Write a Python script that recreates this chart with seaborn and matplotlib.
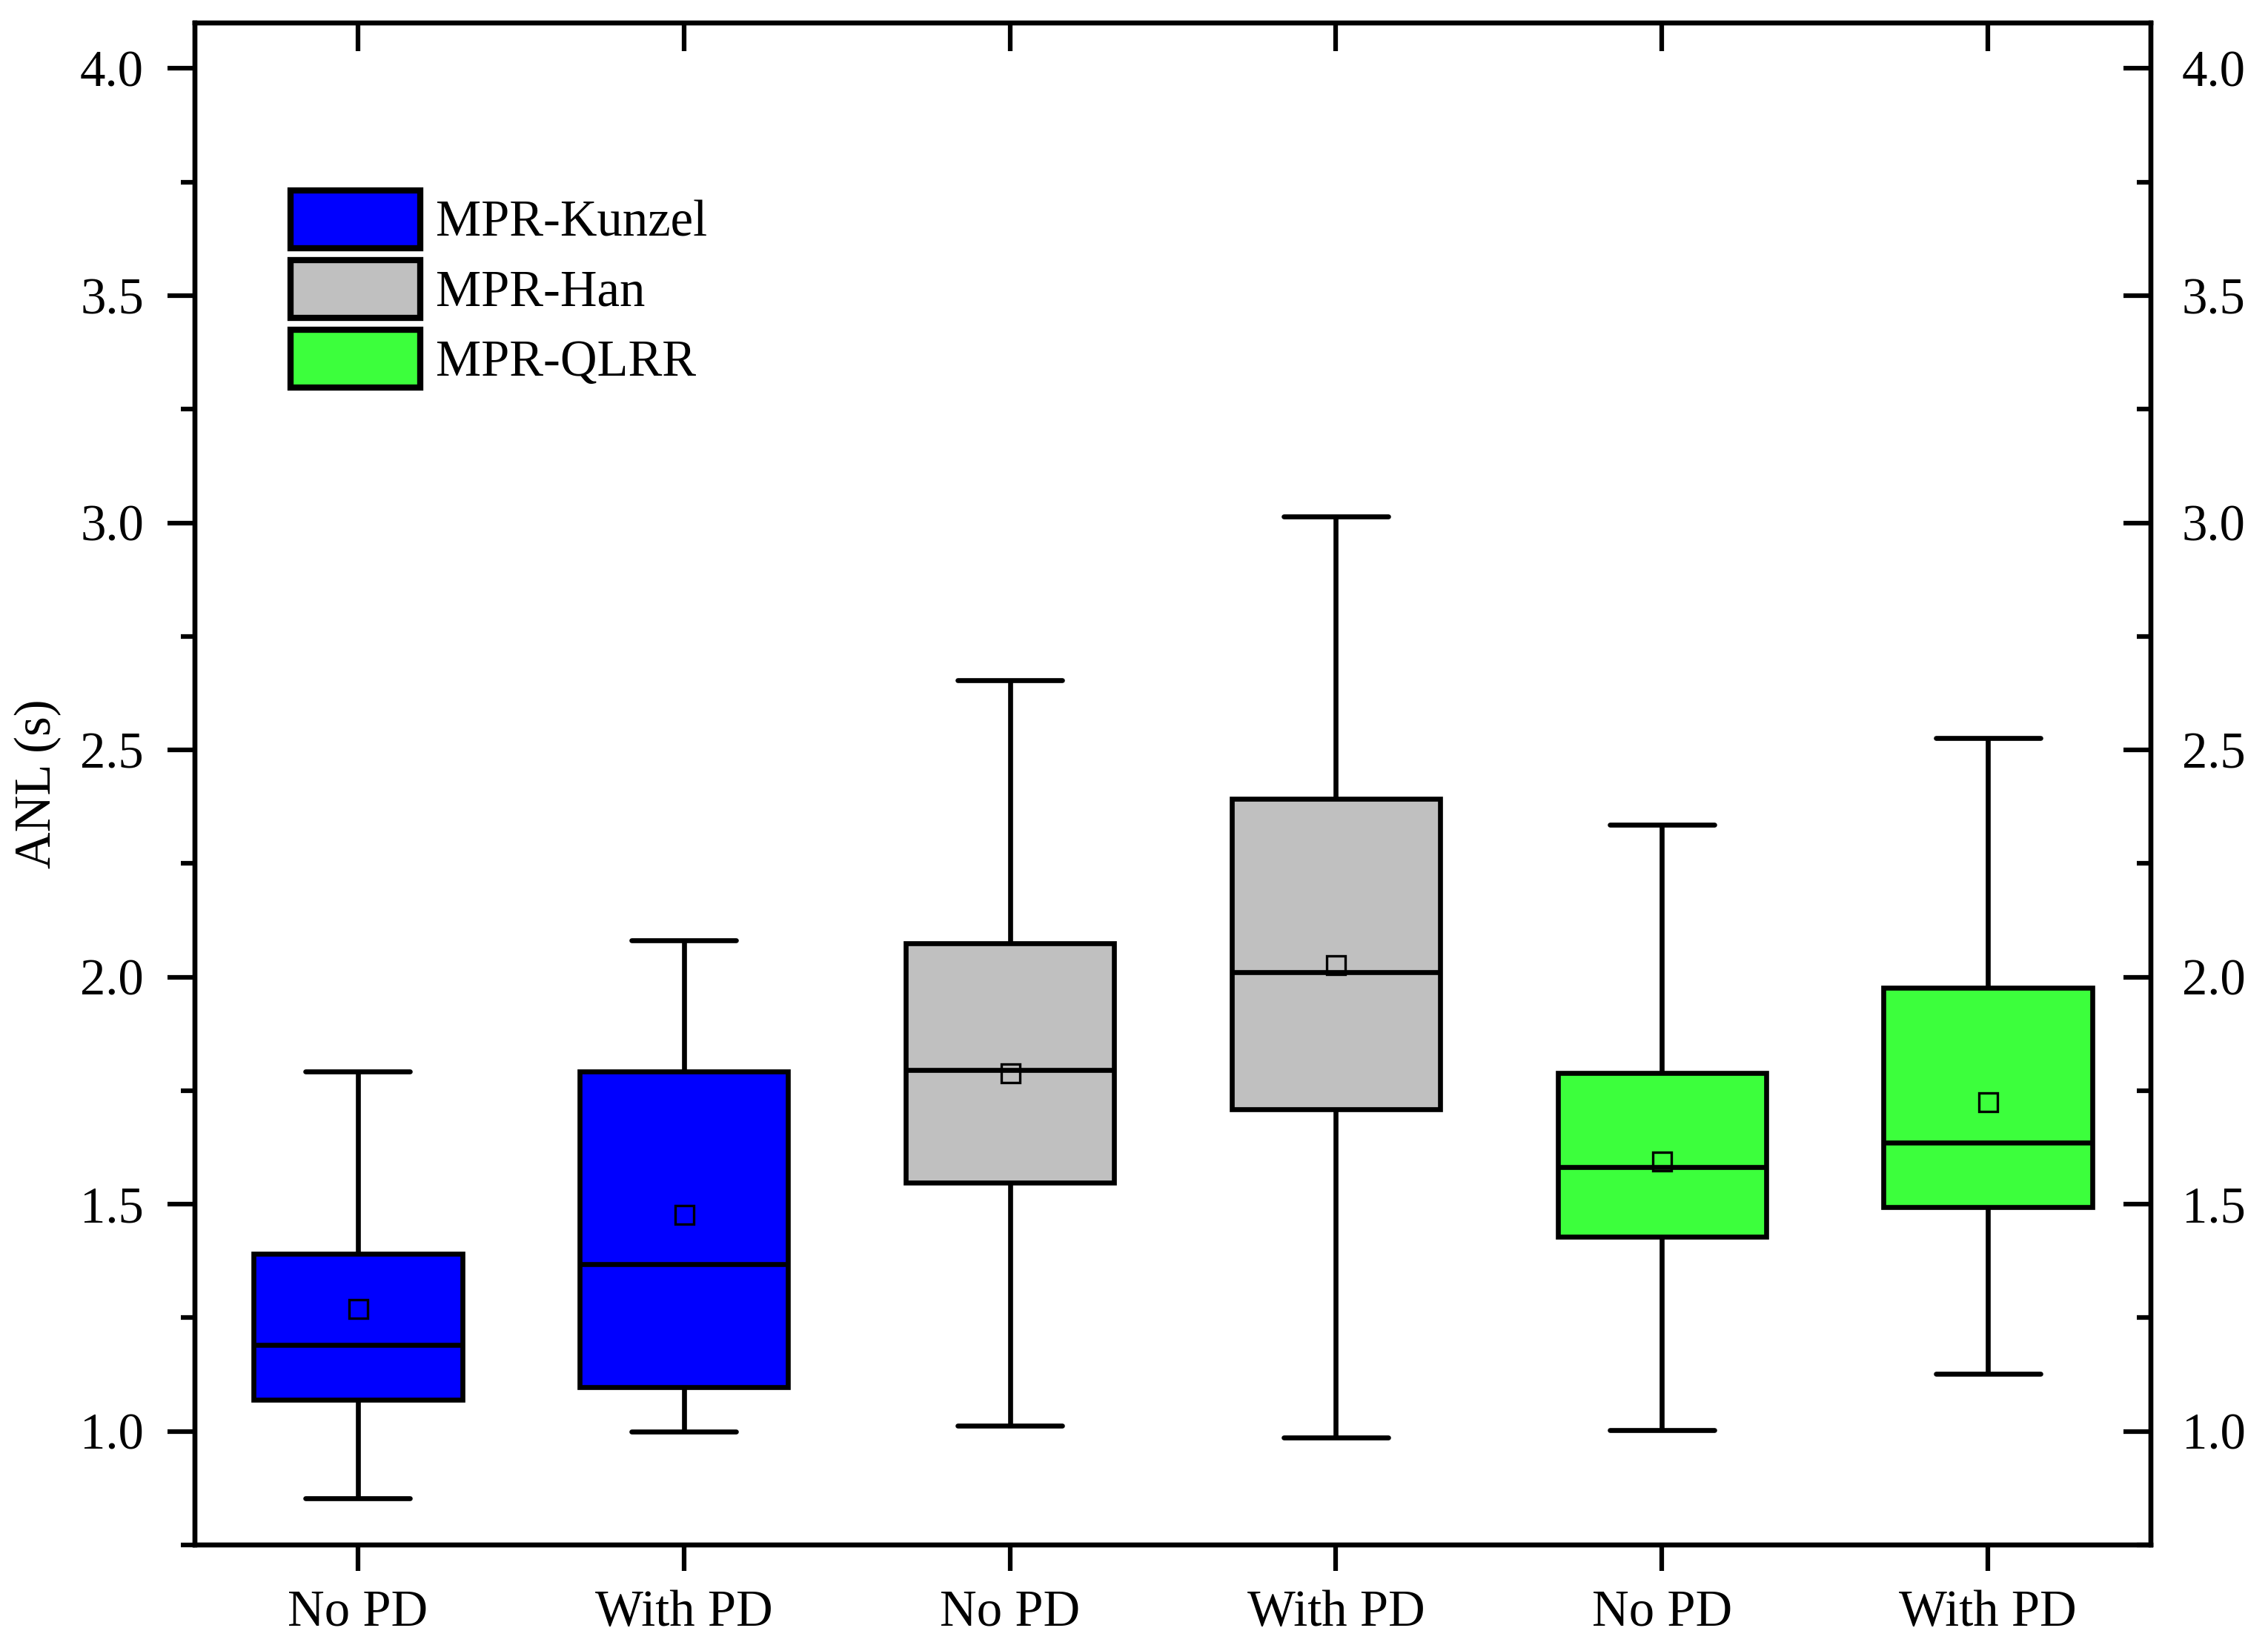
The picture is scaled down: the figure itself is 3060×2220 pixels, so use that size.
import numpy as np
import pandas as pd
import matplotlib
matplotlib.use("Agg")
import matplotlib.pyplot as plt
from matplotlib.patches import Patch
from matplotlib.ticker import MultipleLocator, FormatStrFormatter
import seaborn as sns

# box summaries (ANL, seconds)
methods = ["MPR-Kunzel", "MPR-Kunzel", "MPR-Han", "MPR-Han", "MPR-QLRR", "MPR-QLRR"]
conditions = ["No PD", "With PD", "No PD", "With PD", "No PD", "With PD"]
whisker_low = [0.853, 1.000, 1.012, 0.987, 1.003, 1.127]
q1 = [1.070, 1.098, 1.547, 1.709, 1.429, 1.493]
median = [1.190, 1.369, 1.795, 2.011, 1.582, 1.636]
q3 = [1.391, 1.792, 2.075, 2.393, 1.789, 1.976]
whisker_high = [1.792, 2.081, 2.654, 3.014, 2.336, 2.527]
mean = [1.270, 1.477, 1.789, 2.027, 1.595, 1.725]

method_names = ["MPR-Kunzel", "MPR-Han", "MPR-QLRR"]
method_colors = ["#0000FF", "#C0C0C0", "#3CFF3C"]

# five values per box -> quartiles and min/max come out exactly
rows = []
for i in range(len(methods)):
    for v in [whisker_low[i], q1[i], median[i], q3[i], whisker_high[i]]:
        rows.append({"box": i, "method": methods[i], "ANL": v})
df = pd.DataFrame(rows)
means_df = pd.DataFrame({"box": range(len(mean)), "mean": mean})

sns.set_style("ticks")
plt.rcParams["font.family"] = ["Liberation Serif", "DejaVu Serif"]
plt.rcParams["font.size"] = 16.5
for k in ["axes.edgecolor", "xtick.color", "ytick.color", "text.color", "axes.labelcolor"]:
    plt.rcParams[k] = "black"

fig = plt.figure(figsize=(10.2, 7.4), dpi=300)
ax = fig.add_axes([0.0859, 0.0608, 0.9484 - 0.0859, 0.986 - 0.0608])

palette = dict(zip(method_names, method_colors))
sns.boxplot(data=df, x="box", y="ANL", hue="method", hue_order=method_names,
            palette=palette, dodge=False, width=0.64, whis=(0, 100),
            saturation=1, linecolor="black", linewidth=1.6, showfliers=False,
            legend=False, ax=ax)

sns.pointplot(data=means_df, x="box", y="mean", linestyle="none", marker="s",
              markersize=6, markerfacecolor="none", markeredgecolor="black",
              markeredgewidth=0.8, color="black", errorbar=None, ax=ax, zorder=5)

ax.set_xlim(-0.5, 5.5)
ax.set_ylim(0.75, 4.1)
ax.set_xticks(range(len(conditions)))
ax.set_xticklabels(conditions)
ax.set_xlabel("")
ax.set_ylabel("ANL (s)", labelpad=6)
ax.yaxis.set_major_locator(MultipleLocator(0.5))
ax.yaxis.set_minor_locator(MultipleLocator(0.25))
ax.yaxis.set_major_formatter(FormatStrFormatter("%.1f"))
ax.tick_params(axis="y", which="major", direction="out", length=9, width=1.5, pad=7.5)
ax.tick_params(axis="y", which="minor", direction="out", length=4.5, width=1.5)
ax.tick_params(axis="x", which="major", direction="out", length=8.5, width=1.5, pad=6)
for s in ax.spines.values():
    s.set_visible(True)
    s.set_linewidth(1.5)

# right axis: inward ticks, labels outside
ax_r = ax.twinx()
ax_r.set_ylim(ax.get_ylim())
ax_r.yaxis.set_major_locator(MultipleLocator(0.5))
ax_r.yaxis.set_minor_locator(MultipleLocator(0.25))
ax_r.yaxis.set_major_formatter(FormatStrFormatter("%.1f"))
ax_r.tick_params(axis="y", which="major", direction="in", length=9, width=1.5, pad=10)
ax_r.tick_params(axis="y", which="minor", direction="in", length=4.5, width=1.5)

# top axis: inward ticks at the boxes
ax_t = ax.twiny()
ax_t.set_xlim(ax.get_xlim())
ax_t.set_xticks(range(len(conditions)))
ax_t.set_xticklabels([])
ax_t.tick_params(axis="x", direction="in", length=9, width=1.5)
for a in (ax_r, ax_t):
    for s in a.spines.values():
        s.set_linewidth(1.5)

handles = [Patch(facecolor=c, edgecolor="black", linewidth=2, joinstyle="round")
           for c in method_colors]
ax.legend(handles, method_names, loc="upper left", bbox_to_anchor=(0.049, 0.890),
          frameon=False, borderpad=0, borderaxespad=0, handlelength=2.55,
          handleheight=1.36, labelspacing=0.24, handletextpad=0.3, fontsize=16.5)

fig.savefig("out.png", dpi=300)
